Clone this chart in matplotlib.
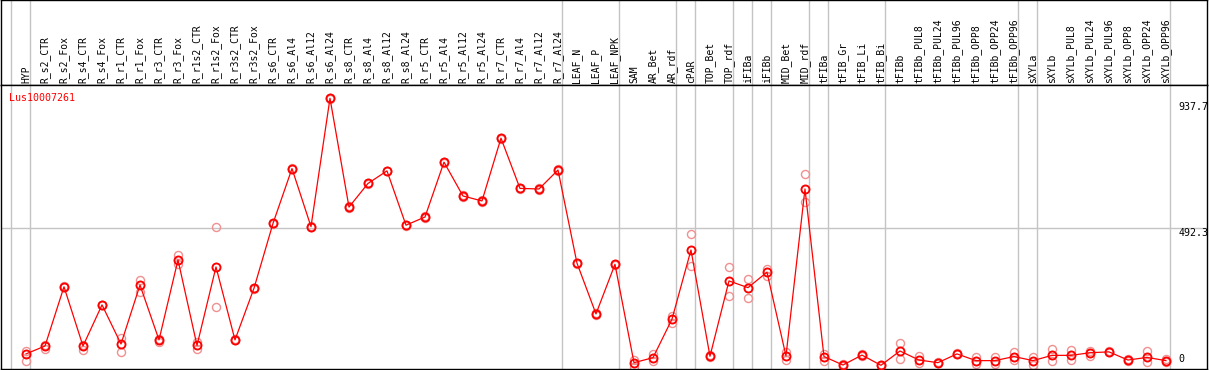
"""
Expression profile for Lus10007261 across flax tissues / treatments.
Mean per sample (red line + circles) with replicates (light circles).
"""
import matplotlib.pyplot as plt
import matplotlib.transforms as mtransforms

GENE = "Lus10007261"

SAMPLES = [
    "HYP", "R_s2_CTR", "R_s2_Fox", "R_s4_CTR", "R_s4_Fox", "R_r1_CTR", "R_r1_Fox",
    "R_r3_CTR", "R_r3_Fox", "R_r1s2_CTR", "R_r1s2_Fox", "R_r3s2_CTR", "R_r3s2_Fox",
    "R_s6_CTR", "R_s6_Al4", "R_s6_Al12", "R_s6_Al24", "R_s8_CTR", "R_s8_Al4",
    "R_s8_Al12", "R_s8_Al24", "R_r5_CTR", "R_r5_Al4", "R_r5_Al12", "R_r5_Al24",
    "R_r7_CTR", "R_r7_Al4", "R_r7_Al12", "R_r7_Al24", "LEAF_N", "LEAF_P", "LEAF_NPK",
    "SAM", "AR_Bet", "AR_rdf", "cPAR", "TOP_Bet", "TOP_rdf", "iFIBa", "iFIBb",
    "MID_Bet", "MID_rdf", "tFIBa", "tFIB_Gr", "tFIB_Li", "tFIB_Bi", "tFIBb",
    "tFIBb_PUL8", "tFIBb_PUL24", "tFIBb_PUL96", "tFIBb_OPP8", "tFIBb_OPP24",
    "tFIBb_OPP96", "sXYLa", "sXYLb", "sXYLb_PUL8", "sXYLb_PUL24", "sXYLb_PUL96",
    "sXYLb_OPP8", "sXYLb_OPP24", "sXYLb_OPP96",
]

MEANS = [
    62, 89, 292, 89, 230, 96, 298, 110, 384, 91, 360, 110, 287,
    509, 697, 498, 937.7, 565, 646, 689, 503, 531, 719, 603, 586,
    801, 629, 627, 692, 373, 199, 369,
    32, 49, 181, 418, 54, 312, 289, 342, 55, 627, 53, 24, 58, 23, 72,
    41, 32, 62, 39, 39, 53, 39, 57, 57, 66, 69, 41, 50, 39,
]

REPLICATES = [
    [73, 62, 39], [80, 89, 92], [292, 290, 294], [75, 89, 92], [230, 228, 231],
    [115, 96, 70], [315, 298, 275], [102, 110, 112], [401, 384, 370], [104, 91, 78],
    [496, 360, 223], [108, 110, 112], [286, 287, 289], [508, 509, 511], [695, 697, 699],
    [497, 498, 500], [936, 938, 939], [563, 565, 567], [644, 646, 648], [687, 689, 690],
    [501, 503, 505], [529, 531, 533], [717, 719, 721], [601, 603, 605], [584, 586, 588],
    [799, 801, 803], [627, 629, 631], [625, 627, 629], [690, 692, 694], [371, 373, 375],
    [197, 199, 201], [367, 369, 371], [18, 32, 40], [62, 49, 39], [193, 181, 169],
    [472, 418, 364], [50, 54, 58], [359, 312, 260], [319, 289, 252], [353, 342, 329],
    [68, 55, 41], [678, 627, 581], [62, 53, 39], [22, 24, 26], [56, 58, 60],
    [21, 23, 25], [99, 72, 44], [56, 41, 30], [30, 32, 34], [60, 62, 64],
    [50, 39, 27], [50, 39, 27], [68, 53, 41], [50, 39, 24], [78, 57, 39],
    [75, 57, 41], [72, 66, 56], [67, 69, 71], [39, 41, 43], [72, 50, 34],
    [43, 39, 35],
]

# sample index after which a group separator is drawn
GROUP_ENDS = [-1, 0, 28, 31, 34, 35, 37, 38, 39, 41, 42, 45, 52, 53, 60]

SCALE_LABELS = ["937.7", "492.3", "0"]
SCALE_VALUES = [937.7, 492.3, 0]

RED = "#ff0000"
REP_RED = "#f09090"
GRID = "#c4c4c4"
FONT = "DejaVu Sans Mono"

W, H, DPI = 1209, 370, 100
HEADER_PX = 85
XLIM = (-1.316, 62.16)
YLIM = (10.3, 983.2)


def main() -> None:
    assert len(SAMPLES) == len(MEANS) == len(REPLICATES)
    xs = list(range(len(SAMPLES)))

    fig = plt.figure(figsize=(W / DPI, H / DPI), dpi=DPI)
    ax_w = 1206 / W
    ax_l = 1 / W
    head = fig.add_axes([ax_l, (H - HEADER_PX) / H, ax_w, HEADER_PX / H])
    ax = fig.add_axes([ax_l, 1 / H, ax_w, (369 - HEADER_PX) / H])

    for a in (head, ax):
        a.set_xlim(*XLIM)
        a.set_xticks([])
        a.set_yticks([])
        for spine in a.spines.values():
            spine.set_color("black")
            spine.set_linewidth(1.0)
        for g in GROUP_ENDS:
            a.axvline(g + 0.21, color=GRID, lw=1.0, zorder=1)
    head.set_ylim(0, 1)
    ax.set_ylim(*YLIM)

    for x, lab in zip(xs, SAMPLES):
        head.text(x, 0.025, lab, rotation=90, ha="center", va="bottom",
                  fontsize=7, family=FONT, color="black")

    ax.axhline(SCALE_VALUES[1], color=GRID, lw=1.0, zorder=1)

    for x, reps in zip(xs, REPLICATES):
        ax.plot([x] * len(reps), reps, "o", ms=5.8, mfc="none", mec=REP_RED,
                mew=1.0, zorder=2, clip_on=False)
    ax.plot(xs, MEANS, "-", color=RED, lw=0.9, zorder=3, clip_on=False)
    ax.plot(xs, MEANS, "o", ms=5.8, mfc="none", mec=RED, mew=1.3, zorder=4,
            clip_on=False)

    ax.annotate(GENE, xy=(0, 1), xycoords="axes fraction", xytext=(6.1, -9.2),
                textcoords="offset points", ha="left", va="center",
                fontsize=7.2, family=FONT, color=RED)

    trans = mtransforms.blended_transform_factory(ax.transAxes, ax.transData)
    offsets = [-3.0, 0.2, 3.6]
    vas = ["top", "top", "bottom"]
    for lab, val, off, va in zip(SCALE_LABELS, SCALE_VALUES, offsets, vas):
        ax.annotate(lab, xy=(0.9765, max(val, YLIM[0])), xycoords=trans,
                    xytext=(0, off), textcoords="offset points", ha="left", va=va,
                    fontsize=7.2, family=FONT, color="black")

    fig.savefig("out.png", dpi=DPI)
    plt.close(fig)


if __name__ == "__main__":
    main()
